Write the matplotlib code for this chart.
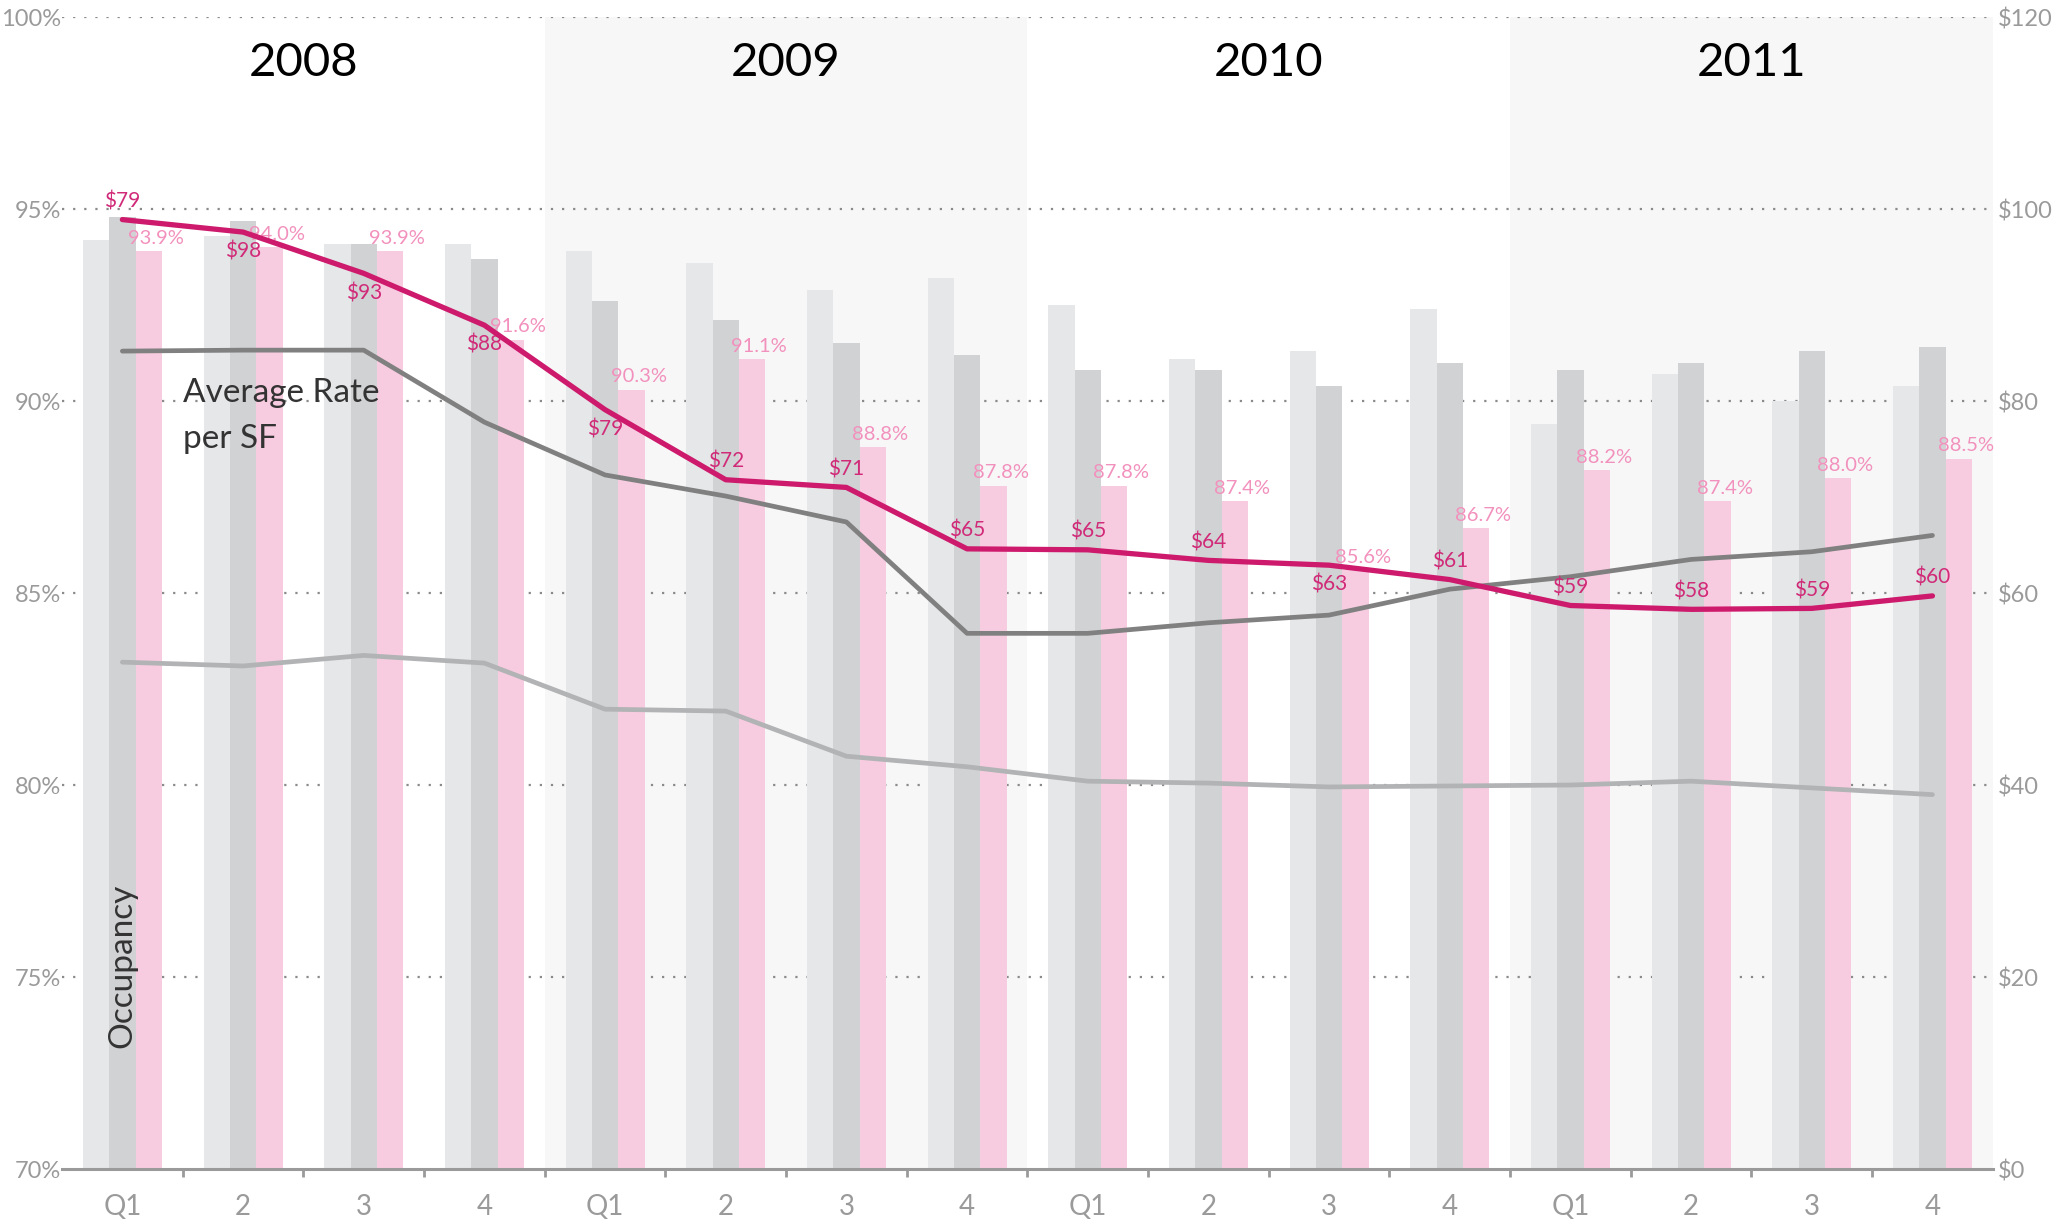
import numpy as np
import matplotlib
matplotlib.use("Agg")
import matplotlib.pyplot as plt
from matplotlib.ticker import FixedLocator, FuncFormatter

plt.rcParams['font.family'] = ['Lato', 'DejaVu Sans']

# data
quarters = ["Q1", "2", "3", "4"] * 4
years = ["2008", "2009", "2010", "2011"]

# occupancy bars (left axis, %)
occ_light = [94.2, 94.3, 94.1, 94.1, 93.9, 93.6, 92.9, 93.2, 92.5, 91.1, 91.3, 92.4, 89.4, 90.7, 90.0, 90.4]
occ_mid = [94.8, 94.7, 94.1, 93.7, 92.6, 92.1, 91.5, 91.2, 90.8, 90.8, 90.4, 91.0, 90.8, 91.0, 91.3, 91.4]
occ_pink = [93.9, 94.0, 93.9, 91.6, 90.3, 91.1, 88.8, 87.8, 87.8, 87.4, 85.6, 86.7, 88.2, 87.4, 88.0, 88.5]

# average rate per SF lines (right axis, $)
rate_pink = [98.9, 97.6, 93.3, 87.9, 79.1, 71.8, 71.0, 64.6, 64.5, 63.4, 62.9, 61.4, 58.7, 58.3, 58.4, 59.7]
rate_dark = [85.2, 85.3, 85.3, 77.8, 72.3, 70.1, 67.4, 55.8, 55.8, 56.9, 57.7, 60.4, 61.7, 63.5, 64.3, 66.0]
rate_light = [52.8, 52.4, 53.5, 52.7, 47.9, 47.7, 43.0, 41.9, 40.4, 40.2, 39.8, 39.9, 40.0, 40.4, 39.7, 39.0]
rate_labels = ["$79", "$98", "$93", "$88", "$79", "$72", "$71", "$65",
               "$65", "$64", "$63", "$61", "$59", "$58", "$59", "$60"]
label_below = [False, True, True, True, True, False, False, False,
               False, False, True, False, False, False, False, False]

x = np.arange(len(quarters))
w = 0.218

fig = plt.figure(figsize=(20.61, 12.25), dpi=100)
ax = fig.add_axes([0.0301, 0.0457, 0.9368, 0.9404])

# shaded years
for k in (1, 3):
    ax.axvspan(4 * k - 0.5, 4 * k + 3.5, color='#f7f7f7', zorder=0, lw=0)

# dotted grid
for g in range(75, 101, 5):
    ax.axhline(g, color='#8a8a8a', lw=1.6, ls=(0, (1, 4)), zorder=0.5)

ax.bar(x - w, occ_light, w, color='#e6e7e8', zorder=2)
ax.bar(x, occ_mid, w, color='#d1d2d4', zorder=2)
ax.bar(x + w, occ_pink, w, color='#f8cce0', zorder=2)

for xi, v in zip(x, occ_pink):
    ax.annotate(f"{v:.1f}%", (xi + w + 0.06, v), xytext=(0, 3), textcoords='offset points',
                ha='center', va='bottom', fontsize=14.5, color='#f291bd', zorder=3)

ax.set_xlim(-0.5, 15.5)
ax.set_ylim(70, 100)
ax.set_yticks(range(70, 101, 5))
ax.yaxis.set_major_formatter(FuncFormatter(lambda v, p: f"{v:.0f}%"))
ax.tick_params(axis='y', length=0, pad=1, labelsize=17, labelcolor='#9a9a9a')

ax.set_xticks(x)
ax.set_xticklabels(quarters)
ax.xaxis.set_minor_locator(FixedLocator(np.arange(0.5, 15, 1)))
ax.tick_params(axis='x', which='major', length=0, pad=18, labelsize=20, labelcolor='#9a9a9a')
ax.tick_params(axis='x', which='minor', length=6, width=2, color='#9a9a9a')

for s in ('top', 'left', 'right'):
    ax.spines[s].set_visible(False)
ax.spines['bottom'].set_color('#9a9a9a')
ax.spines['bottom'].set_linewidth(2.2)
ax.spines['bottom'].set_zorder(5)

for i, yr in enumerate(years):
    ax.text(4 * i + 1.5, 98.8, yr, ha='center', va='center', fontsize=34, color='black', zorder=4)

ax.text(0.5, 90.2, "Average Rate", ha='left', va='center', fontsize=24, color='#333333', zorder=4)
ax.text(0.5, 89.0, "per SF", ha='left', va='center', fontsize=24, color='#333333', zorder=4)
ax.text(0.0, 75.3, "Occupancy", ha='center', va='center', rotation=90, fontsize=24,
        color='#333333', zorder=4)

# right axis with rate lines
ax2 = ax.twinx()
ax2.set_ylim(0, 120)
ax2.plot(x, rate_light, color='#b2b3b5', lw=3.4, solid_capstyle='round', zorder=3)
ax2.plot(x, rate_dark, color='#808080', lw=3.4, solid_capstyle='round', zorder=3)
ax2.plot(x, rate_pink, color='#cd1a6c', lw=3.8, solid_capstyle='round', zorder=4)

for xi, v, t, below in zip(x, rate_pink, rate_labels, label_below):
    if below:
        ax2.annotate(t, (xi, v), xytext=(0, -7), textcoords='offset points',
                     ha='center', va='top', fontsize=15, color='#d02a78')
    else:
        ax2.annotate(t, (xi, v), xytext=(0, 6), textcoords='offset points',
                     ha='center', va='bottom', fontsize=15, color='#d02a78')

ax2.set_yticks(range(0, 121, 20))
ax2.yaxis.set_major_formatter(FuncFormatter(lambda v, p: f"${v:.0f}"))
ax2.tick_params(axis='y', length=0, pad=4, labelsize=17, labelcolor='#9a9a9a')
for s in ax2.spines.values():
    s.set_visible(False)

fig.savefig("out.png", dpi=100)
